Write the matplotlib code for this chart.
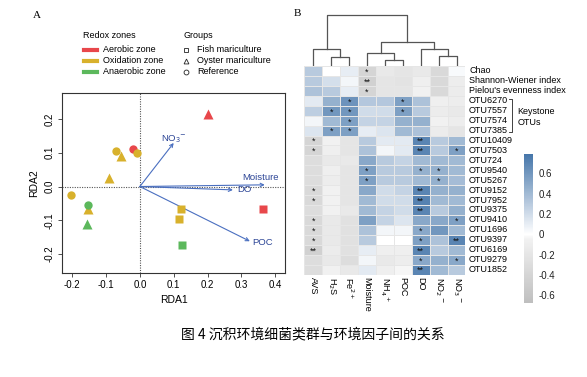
import numpy as np
import matplotlib.pyplot as plt
from matplotlib.colors import LinearSegmentedColormap, Normalize
from matplotlib.lines import Line2D

plt.rcParams['font.family'] = ['Liberation Sans', 'DejaVu Sans']

# ---- Panel A: RDA ordination ----
zone_names = ['Aerobic zone', 'Oxidation zone', 'Anaerobic zone']
zone_colors = ['#e8474b', '#d8b12c', '#5cb85c']
group_names = ['Fish mariculture', 'Oyster mariculture', 'Reference']
group_markers = ['s', '^', 'o']

# zone index, group index, RDA1, RDA2 for each sample
site_zone = [0, 0, 0, 1, 1, 1, 1, 1, 1, 1, 1, 2, 2, 2]
site_group = [1, 2, 0, 2, 2, 2, 1, 1, 1, 0, 0, 2, 1, 0]
site_rda1 = [0.200, -0.019, 0.364, -0.071, -0.008, -0.204, -0.055, -0.092,
             -0.154, 0.123, 0.115, -0.154, -0.157, 0.125]
site_rda2 = [0.215, 0.112, -0.068, 0.104, 0.099, -0.025, 0.089, 0.026,
             -0.068, -0.068, -0.097, -0.054, -0.112, -0.172]

env_names = ['NO$_3$$^{-}$', 'Moisture', 'DO', 'POC']
env_rda1 = [0.100, 0.369, 0.275, 0.325]
env_rda2 = [0.129, 0.005, -0.010, -0.162]

# ---- Panel B: correlation heatmap ----
col_labels = ['AVS', 'H$_2$S', 'Fe$^{2+}$', 'Moisture', 'NH$_4$$^+$', 'POC',
              'DO', 'NO$_2$$^-$', 'NO$_3$$^-$']
row_labels = ['Chao', 'Shannon-Wiener index', "Pielou's evenness index",
              'OTU6270', 'OTU7557', 'OTU7574', 'OTU7385', 'OTU10409',
              'OTU7503', 'OTU724', 'OTU9540', 'OTU5267', 'OTU9152', 'OTU7952',
              'OTU9375', 'OTU9410', 'OTU1696', 'OTU9397', 'OTU6169', 'OTU9279',
              'OTU1852']
corr = [
    [0.30, 0.00, 0.10, -0.40, -0.15, -0.20, -0.15, -0.35, 0.03],
    [0.30, 0.18, 0.05, -0.45, -0.20, -0.22, -0.08, -0.35, -0.10],
    [0.35, 0.30, 0.10, -0.40, -0.20, -0.20, -0.05, -0.35, -0.12],
    [0.12, 0.45, 0.62, 0.32, 0.32, 0.55, 0.35, -0.08, -0.10],
    [0.28, 0.60, 0.60, 0.20, 0.20, 0.55, 0.30, -0.12, -0.15],
    [0.05, 0.40, 0.55, 0.25, 0.25, 0.45, 0.45, -0.05, -0.10],
    [0.15, 0.55, 0.55, 0.10, 0.15, 0.40, 0.35, -0.12, -0.20],
    [-0.40, -0.05, -0.20, 0.30, 0.12, 0.12, 0.70, 0.30, 0.40],
    [-0.40, -0.08, -0.20, 0.35, 0.05, 0.12, 0.70, 0.30, 0.55],
    [-0.30, -0.15, -0.15, 0.50, 0.30, 0.25, 0.40, 0.40, 0.40],
    [-0.30, -0.08, -0.20, 0.55, 0.30, 0.30, 0.45, 0.45, 0.40],
    [-0.30, -0.10, -0.20, 0.55, 0.30, 0.30, 0.40, 0.45, 0.38],
    [-0.35, -0.05, -0.20, 0.50, 0.20, 0.25, 0.70, 0.45, 0.45],
    [-0.35, -0.05, -0.20, 0.40, 0.20, 0.20, 0.72, 0.40, 0.40],
    [-0.30, -0.05, -0.15, 0.40, 0.25, 0.20, 0.70, 0.30, 0.45],
    [-0.35, -0.15, -0.25, 0.55, 0.25, 0.15, 0.50, 0.50, 0.55],
    [-0.35, -0.15, -0.25, 0.35, 0.05, 0.05, 0.50, 0.60, 0.40],
    [-0.35, -0.15, -0.25, 0.30, 0.00, 0.00, 0.55, 0.35, 0.70],
    [-0.45, -0.12, -0.25, 0.10, -0.08, -0.08, 0.70, 0.30, 0.40],
    [-0.30, -0.15, -0.30, 0.05, -0.15, -0.10, 0.50, 0.45, 0.50],
    [-0.30, -0.05, -0.15, 0.12, -0.08, -0.03, 0.70, 0.40, 0.30],
]
# significance marks per row: {column index: mark}
signif = [
    {3: '*'}, {3: '**'}, {3: '*'},
    {2: '*', 5: '*'}, {1: '*', 2: '*', 5: '*'}, {2: '*'}, {1: '*', 2: '*'},
    {0: '*', 6: '**'}, {0: '*', 6: '**', 8: '*'}, {},
    {3: '*', 6: '*', 7: '*'}, {3: '*', 7: '*'},
    {0: '*', 6: '**'}, {0: '*', 6: '**'}, {6: '**'},
    {0: '*', 8: '*'}, {0: '*', 6: '*'}, {0: '*', 6: '*', 8: '**'},
    {0: '**', 6: '**'}, {6: '*', 8: '*'}, {6: '**'},
]
# column dendrogram, scipy-linkage style: child a, child b, height
col_linkage = [[1, 2, 9.0], [0, 9, 16.7], [4, 5, 6.5], [3, 11, 13.5],
               [7, 8, 9.7], [6, 13, 16.8], [12, 14, 24.0], [10, 15, 51.0]]
cbar_ticks = [-0.6, -0.4, -0.2, 0, 0.2, 0.4, 0.6]
vmin, vmax = -0.67, 0.79

fig = plt.figure(figsize=(5.87, 3.77), dpi=100)
W, H = 587.0, 377.0

# ---------------- A ----------------
ax = fig.add_axes([0.1056, 0.2759, 0.380, 0.4775])
ax.axvline(0, color='#555555', lw=0.8, ls=(0, (1, 1.2)), zorder=1)
ax.axhline(0, color='#555555', lw=0.8, ls=(0, (1, 1.2)), zorder=1)
for z, g, x, y in zip(site_zone, site_group, site_rda1, site_rda2):
    ms = 6.5 if group_markers[g] == '^' else 6
    ax.plot(x, y, marker=group_markers[g], color=zone_colors[z], ms=ms,
            mec='none', ls='none', zorder=3)

arrow_col = '#4a6fc0'
label_col = '#2c4596'
label_style = [((0, 3), 'center', 'center'), ((10, 5), 'right', 'center'),
               ((3, 0), 'left', 'center'), ((2, -1), 'left', 'center')]
for name, x, y, (off, ha, va) in zip(env_names, env_rda1, env_rda2, label_style):
    ax.annotate('', xy=(x, y), xytext=(0, 0),
                arrowprops=dict(arrowstyle='->', color=arrow_col, lw=0.8,
                                shrinkA=0, shrinkB=0, mutation_scale=6),
                zorder=2)
    ax.annotate(name, xy=(x, y), xytext=off, textcoords='offset points',
                ha=ha, va=va, fontsize=6.8, color=label_col)

ax.set_xlim(-0.23, 0.429)
ax.set_ylim(-0.256, 0.277)
ax.set_xticks([-0.2, -0.1, 0.0, 0.1, 0.2, 0.3, 0.4])
ax.set_yticks([-0.2, -0.1, 0.0, 0.1, 0.2])
ax.xaxis.set_major_formatter(plt.FormatStrFormatter('%.1f'))
ax.yaxis.set_major_formatter(plt.FormatStrFormatter('%.1f'))
ax.tick_params(labelsize=7, length=3, width=0.6, color='#333333', pad=2)
for lbl in ax.get_yticklabels():
    lbl.set_rotation(90)
    lbl.set_va('center')
for s in ax.spines.values():
    s.set_linewidth(0.8)
    s.set_color('#333333')
ax.set_xlabel('RDA1', fontsize=7.5, labelpad=4)
ax.set_ylabel('RDA2', fontsize=7.5, labelpad=4)

# legend for A, drawn in figure coordinates
fig.text(83 / W, 1 - 35 / H, 'Redox zones', fontsize=6.5, va='center')
fig.text(183 / W, 1 - 35 / H, 'Groups', fontsize=6.5, va='center')
for i, (name, c) in enumerate(zip(zone_names, zone_colors)):
    yy = 1 - (49.5 + 11 * i) / H
    fig.add_artist(Line2D([84 / W, 97 / W], [yy, yy], color=c, lw=3))
    fig.text(103 / W, yy, name, fontsize=6.5, va='center')
for i, (name, m) in enumerate(zip(group_names, group_markers)):
    yy = 1 - (49.5 + 11 * i) / H
    fig.add_artist(Line2D([186 / W], [yy], marker=m, ms=3.5, mfc='none',
                          mec='#222222', mew=0.6, ls='none'))
    fig.text(197 / W, yy, name, fontsize=6.5, va='center')

fig.text(33 / W, 1 - 15 / H, 'A', family='Liberation Serif', fontsize=8, va='center')
fig.text(294 / W, 1 - 14 / H, 'B', family='Liberation Serif', fontsize=8, va='center')

# ---------------- B ----------------
data = np.array(corr)
nrow, ncol = data.shape
z0 = -vmin / (vmax - vmin)
cmap = LinearSegmentedColormap.from_list(
    'gwb', [(0, '#bfbfbf'), (z0 - 0.03, '#f2f2f2'), (z0, '#ffffff'), (1, '#4676aa')])
norm = Normalize(vmin=vmin, vmax=vmax)

axh = fig.add_axes([0.5187, 1 - 274.5 / H, 161 / W, 208.5 / H])
mesh = axh.pcolormesh(np.arange(ncol + 1), np.arange(nrow + 1), data,
                      cmap=cmap, norm=norm, edgecolors='#e6e6e6', linewidth=0.6)
axh.set_xlim(0, ncol)
axh.set_ylim(nrow, 0)
axh.axis('off')

for i, marks in enumerate(signif):
    for j, mark in marks.items():
        axh.text(j + 0.5, i + 0.62, mark, ha='center', va='center',
                 fontsize=6.5, color='#111111')

for i, lab in enumerate(row_labels):
    axh.text(ncol + 0.2, i + 0.5, lab, ha='left', va='center', fontsize=6.5,
             clip_on=False)
for j, lab in enumerate(col_labels):
    axh.text(j + 0.5, nrow + 0.25, lab, ha='center', va='top', rotation=270,
             fontsize=6.5, clip_on=False)

# keystone bracket
bx = 11.58
axh.plot([bx - 0.17, bx, bx, bx - 0.17], [3.3, 3.3, 6.6, 6.6],
         color='#222222', lw=0.6, clip_on=False)
axh.text(bx + 0.33, 4.55, 'Keystone', fontsize=6.5, va='center', clip_on=False)
axh.text(bx + 0.33, 5.66, 'OTUs', fontsize=6.5, va='center', clip_on=False)

# dendrogram
axd = fig.add_axes([0.5187, 1 - 66 / H, 161 / W, 52 / H])
node_x = [j + 0.5 for j in range(ncol)]
node_h = [0.0] * ncol
for a, b, h in col_linkage:
    xa, xb = node_x[int(a)], node_x[int(b)]
    ha_, hb_ = node_h[int(a)], node_h[int(b)]
    axd.plot([xa, xa, xb, xb], [ha_, h, h, hb_], color='#555555', lw=0.9)
    node_x.append((xa + xb) / 2)
    node_h.append(h)
axd.set_xlim(0, ncol)
axd.set_ylim(0, 52)
axd.axis('off')

# colorbar
cax = fig.add_axes([524 / W, 1 - 302.5 / H, 9 / W, 148.5 / H])
cb = fig.colorbar(mesh, cax=cax, ticks=cbar_ticks)
cb.outline.set_visible(False)
cb.ax.set_yticklabels(['-0.6', '-0.4', '-0.2', '0', '0.2', '0.4', '0.6'])
cb.ax.tick_params(length=0, labelsize=7, pad=4, labelcolor='#222222')

# caption
fig.text(313 / W, 1 - 334 / H, '图 4 沉积环境细菌类群与环境因子间的关系',
         family=['Noto Sans CJK SC', 'DejaVu Sans'], fontsize=10,
         ha='center', va='center')

fig.savefig('out.png', dpi=100)
